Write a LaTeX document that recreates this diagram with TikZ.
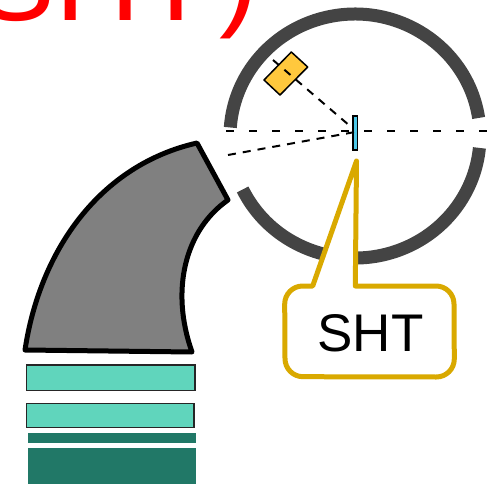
\documentclass[tikz,border=0pt]{standalone}
\usepackage{fontspec}
\setmainfont{Liberation Sans}
\definecolor{ringc}{HTML}{444444}
\definecolor{goldc}{HTML}{D9A900}
\definecolor{tealc}{HTML}{60D5BC}
\definecolor{darkt}{HTML}{217867}
\definecolor{yell}{HTML}{FFC83D}
\definecolor{mirr}{HTML}{4DC8E8}
\tikzset{
 ring/.style={draw=ringc,line width=13pt},
 lightbar/.style={draw=black!85,fill=tealc,line width=1.3pt},
 darkbar/.style={fill=darkt},
 dashlong/.style={black,line width=2pt,dash pattern=on 8pt off 15pt},
 dashshort/.style={black,line width=2pt,dash pattern=on 8pt off 7pt},
}
\begin{document}
\begin{tikzpicture}[x=1pt,y=-1pt]
\useasboundingbox (0,0) rectangle (490,484);
\clip (0,0) rectangle (490,484);
\node[red,anchor=base west,inner sep=0pt,font=\fontsize{118}{118}\selectfont] (title) at (-23.7,21) {SHT\kern 7pt\raisebox{6pt}{)}};
% ring
\coordinate (c) at (355,136);
\draw[ring] (c) ++(8.5:125 and -122) arc[start angle=-8.5,end angle=-176,x radius=125,y radius=122];
\draw[ring] (c) ++(206:125 and -122) arc[start angle=154,end angle=5.6,x radius=125,y radius=122];
% gray
\draw[line width=5pt,fill=gray,line join=round] (25,350) .. controls (40,250) and (100,165) .. (197,143) -- (228,200) .. controls (185,230) and (170,290) .. (192,352) -- cycle;
% bars
\path[lightbar] (26.5,365) rectangle (195,390.5);
\path[lightbar] (26.5,403.5) rectangle (194,427.5);
\fill[darkbar] (28,433) rectangle (196,443);
\fill[darkbar] (28,448) rectangle (196,484);
% optics
\draw[fill=yell,line width=1.5pt,line join=round] (291.3,52) -- (307.7,67) -- (280,95) -- (264,80) -- cycle;
\draw[fill=mirr,line width=1.5pt] (353,116) rectangle (357.3,150);
\coordinate (m) at (355,132);
\coordinate (hl) at (226,131.5);
\coordinate (hr) at (490,131.5);
\coordinate (dl) at (228,155);
\coordinate (ya) at (273,60);
\draw[dashlong] (hl) -- (hr);
\draw[dashshort] (dl) -- (m);
\draw[dashshort] (ya) -- (350,126);
% callout
\draw[draw=goldc,fill=white,line width=5pt,line join=round] (356.5,161) -- (355.3,286) -- (436,286) arc[start angle=-90,end angle=0,radius=18] -- (454.3,359) arc[start angle=0,end angle=90,radius=18] -- (303,376.7) arc[start angle=90,end angle=180,radius=18] -- (284.7,304) arc[start angle=180,end angle=270,radius=18] -- (312.7,286) -- cycle;
\node[inner sep=0pt,font=\fontsize{53}{53}\selectfont] (sht) at (370.5,333) {SHT};
\end{tikzpicture}
\end{document}
